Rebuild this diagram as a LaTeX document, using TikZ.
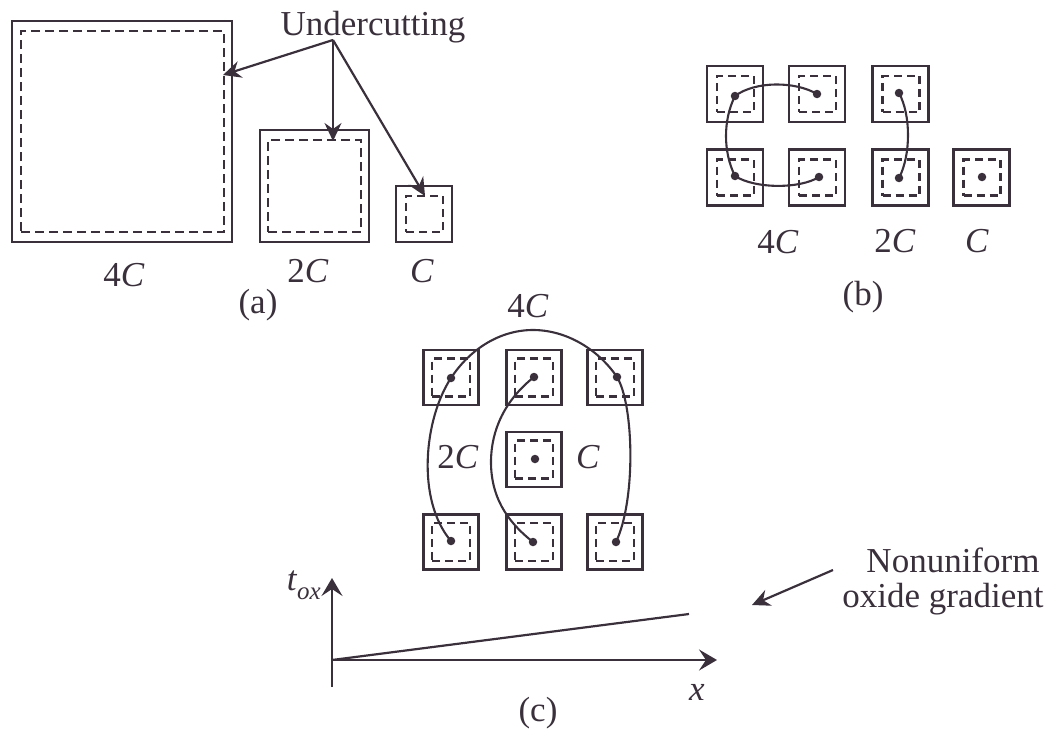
\documentclass[tikz,border=0pt]{standalone}
\usepackage{fontspec}
\setmainfont{Liberation Serif}
\usetikzlibrary{arrows.meta}
\definecolor{ink}{RGB}{58,48,60}
\begin{document}
\begin{tikzpicture}[x=1pt,y=-1pt,
  lbl/.style={font=\fontsize{35}{42}\selectfont, anchor=base, inner sep=0pt, text=ink},
  outerbox/.style={draw=ink, line width=2.3pt, inner sep=0pt, outer sep=0pt},
  innerbox/.style={draw=ink, line width=2.1pt, dash pattern=on 9pt off 5pt, inner sep=0pt, outer sep=0pt},
  cellb/.style={outerbox, minimum width=56pt, minimum height=56pt},
  cellbi/.style={innerbox, minimum width=37pt, minimum height=36pt, dash pattern=on 8pt off 5pt},
  cellc/.style={outerbox, minimum width=55pt, minimum height=55pt},
  cellci/.style={innerbox, minimum width=38pt, minimum height=38pt, dash pattern=on 8pt off 5pt},
  dotn/.style={circle, fill=ink, inner sep=0pt, minimum size=8.5pt},
  link/.style={draw=ink, line width=2.1pt},
  arr/.style={draw=ink, line width=2.2pt, -{Stealth[length=18pt,width=17pt,inset=6pt]}},
  axis/.style={draw=ink, line width=2.5pt, -{Stealth[length=18pt,width=21pt,inset=7pt]}}
]
\useasboundingbox (0,0) rectangle (1050,731);

% ---------- (a) ----------
\node[outerbox, minimum width=220pt, minimum height=221pt] (A4) at (122,131.5) {};
\node[innerbox, minimum width=203pt, minimum height=201pt] (A4i) at (122.5,131.5) {};
\node[outerbox, minimum width=109pt, minimum height=112pt] (A2) at (314.5,186) {};
\node[innerbox, minimum width=93pt, minimum height=92pt] (A2i) at (314.5,186) {};
\node[outerbox, minimum width=56pt, minimum height=56pt] (A1) at (424,214) {};
\node[innerbox, minimum width=37pt, minimum height=36pt, dash pattern=on 8pt off 5pt] (A1i) at (424.5,214) {};

\node[lbl] (U) at (373,35) {Undercutting};
\coordinate (Us) at (333,40);
\coordinate (t1) at (223,75);
\coordinate (t2) at (333,141);
\coordinate (t3) at (425,196);
\draw[arr] (Us) -- (t1);
\draw[arr] (Us) -- (t2);
\draw[arr] (Us) -- (t3);

\node[lbl] (la4) at (124,286) {4\textit{C}};
\node[lbl] (la2) at (308,282) {2\textit{C}};
\node[lbl] (la1) at (422,282) {\textit{C}};
\node[lbl] (la) at (258,313) {(a)};

% ---------- (b) ----------
\foreach \n/\x/\y in {b11/735/94, b12/817/94, b13/900.5/94, b21/735/177.5, b22/817/177.5, b23/900.5/177.5, b24/981.5/177.5}{
  \node[cellb] (\n) at (\x,\y) {};
  \node[cellbi] (\n i) at (\x+0.5,\y) {};
}
\node[dotn] (db11) at (735,96) {};
\node[dotn] (db12) at (817,94) {};
\node[dotn] (db13) at (899,93) {};
\node[dotn] (db21) at (735,176) {};
\node[dotn] (db22) at (819,177) {};
\node[dotn] (db23) at (899,178) {};
\node[dotn] (db24) at (982,177) {};
\draw[link] (db12.center) .. controls (795,81) and (755,81) .. (db11.center)
  .. controls (723,120) and (723,152) .. (db21.center)
  .. controls (755,189) and (800,189) .. (db22.center);
\draw[link] (db13.center) .. controls (911,115) and (911,155) .. (db23.center);

\node[lbl] (lb4) at (778,253) {4\textit{C}};
\node[lbl] (lb2) at (895,252) {2\textit{C}};
\node[lbl] (lb1) at (977,252) {\textit{C}};
\node[lbl] (lb) at (863,305) {(b)};

% ---------- (c) ----------
\foreach \n/\x/\y in {c11/451/377.5, c12/534/377.5, c13/615/377.5, c22/534/459.5, c31/451/542, c32/534/542, c33/615/542}{
  \node[cellc] (\n) at (\x,\y) {};
  \node[cellci] (\n i) at (\x,\y) {};
}
\node[dotn] (dc11) at (451,378) {};
\node[dotn] (dc12) at (534,377) {};
\node[dotn] (dc13) at (617,377) {};
\node[dotn] (dc22) at (535,459) {};
\node[dotn] (dc31) at (451,541) {};
\node[dotn] (dc32) at (533,542) {};
\node[dotn] (dc33) at (616,542) {};
\draw[link] (dc31.center) .. controls (416,500) and (424,419) .. (dc11.center)
  .. controls (470,349) and (500,330) .. (533,330)
  .. controls (566,330) and (598,349) .. (dc13.center)
  .. controls (634,405) and (636,500) .. (dc33.center);
\draw[link] (dc12.center) .. controls (505,400) and (491,430) .. (491,462)
  .. controls (491,495) and (505,520) .. (dc32.center);

\node[lbl] (lc4) at (528,317) {4\textit{C}};
\node[lbl] (lc2) at (458,468) {2\textit{C}};
\node[lbl] (lc1) at (588,468) {\textit{C}};

% ---------- graph ----------
\coordinate (O) at (332,660);
\coordinate (Ybot) at (332,687);
\coordinate (Ytop) at (332,578);
\coordinate (Xend) at (717,660);
\coordinate (G) at (689,614);
\draw[axis] (Ybot) -- (Ytop);
\draw[axis] (O) -- (Xend);
\draw[link, line width=2.2pt] (O) -- (G);
\node[lbl, anchor=base east] (ltox) at (321,590) {\textit{t}\raisebox{-0.28em}{\fontsize{25}{28}\selectfont\textit{ox}}};
\node[lbl] (lx) at (697,700) {\textit{x}};
\node[lbl] (lc) at (538,721) {(c)};

\node[lbl] (n1) at (953,572) {Nonuniform};
\node[lbl] (n2) at (943,607) {oxide gradient};
\coordinate (Ns) at (833,570);
\coordinate (Ne) at (752,605);
\draw[arr] (Ns) -- (Ne);
\end{tikzpicture}
\end{document}
